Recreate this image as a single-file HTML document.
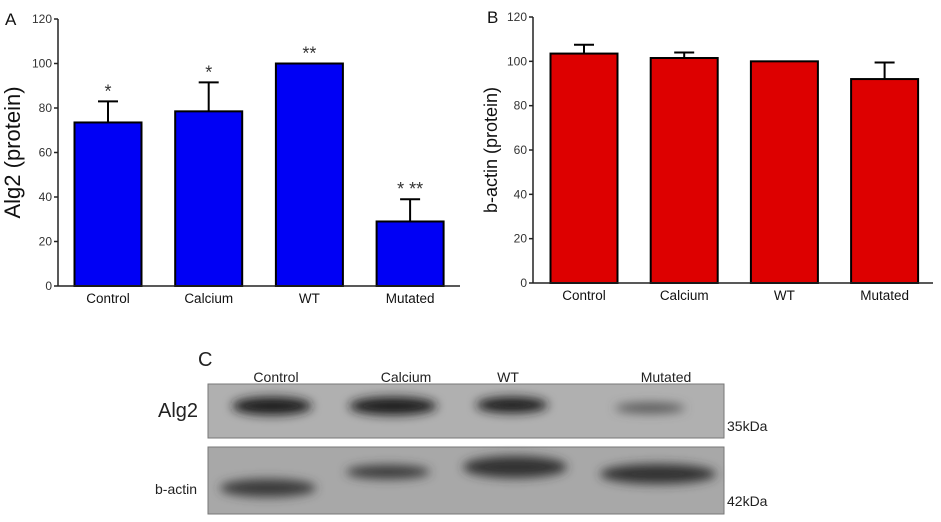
<!DOCTYPE html>
<html><head><meta charset="utf-8"><style>
body{margin:0;background:#fff;width:941px;height:522px;overflow:hidden}
svg{display:block;font-family:"Liberation Sans",sans-serif}
</style></head><body>
<svg id="s" width="941" height="522">
<defs>
<filter id="blur" x="-30%" y="-80%" width="160%" height="260%"><feGaussianBlur stdDeviation="5"/></filter>
</defs>
<g id="blot">
<text x="198" y="366" font-size="20" fill="#222">C</text>
<text x="276" y="382" font-size="14" text-anchor="middle" fill="#222">Control</text>
<text x="406" y="382" font-size="14" text-anchor="middle" fill="#222">Calcium</text>
<text x="508" y="382" font-size="14" text-anchor="middle" fill="#222">WT</text>
<text x="666" y="382" font-size="14" text-anchor="middle" fill="#222">Mutated</text>
<rect x="208" y="384" width="516" height="54" fill="#b0b0b0" stroke="#777"/>
<rect x="208" y="447" width="516" height="67" fill="#a8a8a8" stroke="#777"/>
<g filter="url(#blur)" fill="#1a1a1a">
<ellipse cx="272" cy="406" rx="40" ry="9"/>
<ellipse cx="393" cy="406" rx="44" ry="9"/>
<ellipse cx="512" cy="405" rx="36" ry="8"/>
<ellipse cx="650" cy="408" rx="35" ry="5" fill="#555"/>
<ellipse cx="268" cy="488" rx="48" ry="9" fill="#3a3a3a"/>
<ellipse cx="388" cy="472" rx="42" ry="7" fill="#3a3a3a"/>
<ellipse cx="515" cy="467" rx="52" ry="11" fill="#333"/>
<ellipse cx="658" cy="474" rx="58" ry="10" fill="#333"/>
</g>
<text x="158" y="417" font-size="20" fill="#222">Alg2</text>
<text x="155" y="494" font-size="14" fill="#222">b-actin</text>
<text x="727" y="431" font-size="14" fill="#222">35kDa</text>
<text x="727" y="506" font-size="14" fill="#222">42kDa</text>
</g>
</svg>
<script>
const categories = ["Control","Calcium","WT","Mutated"];
const alg2Values = [73.5,78.5,100,29];
const alg2Errors = [9.5,13,0,10];
const alg2Stars = ["*","*","**","* **"];
const bactinValues = [103.5,101.5,100,92];
const bactinErrors = [4,2.5,0,7.5];
const yTicks = [0,20,40,60,80,100,120];

const NS="http://www.w3.org/2000/svg";
const svg=document.getElementById('s');
function mk(tag,attrs,parent){const e=document.createElementNS(NS,tag);for(const k in attrs)e.setAttribute(k,attrs[k]);(parent||svg).appendChild(e);return e;}

function panel(cfg){
  const g=mk('g',{});
  
  
  const y=v=>cfg.y0-(v/120)*(cfg.y0-cfg.y120);
  const x=i=>cfg.ax+cfg.first+cfg.step*i;
  const bw=67;
  cfg.values.forEach((v,i)=>{
    const err=cfg.errors[i];
    if(err>0){
      const l=mk('line',{x1:x(i),x2:x(i),y1:y(v),y2:y(v+err),stroke:'#000','stroke-width':2},g);
      
      
      const c=mk('line',{x1:x(i)-10,x2:x(i)+10,y1:y(v+err),y2:y(v+err),stroke:'#000','stroke-width':2},g);
      
      
    }
    const r=mk('rect',{x:x(i)-bw/2,y:y(v),width:bw,height:y(0)-y(v),fill:cfg.color,stroke:'#000','stroke-width':2},g);
    
    
    const t=mk('text',{x:x(i),y:cfg.y0+17,'font-size':13.5,'text-anchor':'middle',fill:'#111'},g);
    t.textContent=categories[i];
    
    
    if(cfg.stars){
      const s=mk('text',{x:x(i),y:y(v+err)-4,'font-size':18,'text-anchor':'middle',fill:'#333'},g);
      s.textContent=cfg.stars[i];
      
      
    }
  });
  const ya=mk('line',{x1:cfg.ax,x2:cfg.ax,y1:cfg.y0,y2:cfg.y120,stroke:'#222','stroke-width':1.5},g);
  
  
  const xa=mk('line',{x1:cfg.ax,x2:cfg.xEnd,y1:cfg.y0,y2:cfg.y0,stroke:'#222','stroke-width':1.5},g);
  
  
  yTicks.forEach(v=>{
    const tk=mk('line',{x1:cfg.ax-4,x2:cfg.ax,y1:y(v),y2:y(v),stroke:'#222','stroke-width':1.5},g);
    
    
    const tl=mk('text',{x:cfg.ax-6,y:y(v)+4,'font-size':12,'text-anchor':'end',fill:'#333'},g);
    tl.textContent=v;
    
    
  });
  const tt=mk('text',{x:0,y:0,'font-size':cfg.titleSize,'text-anchor':'middle',fill:'#111',transform:`translate(${cfg.titleX},${(cfg.y0+cfg.y120)/2}) rotate(-90)`},g);
  tt.textContent=cfg.title;
  
  
  const pl=mk('text',{x:cfg.labelX,y:cfg.y120+6,'font-size':17,fill:'#111'},g);
  pl.textContent=cfg.label;
  
  
}
panel({name:'alg2-chart',ax:58,xEnd:460,y0:286,y120:19,first:50,step:100.7,values:alg2Values,errors:alg2Errors,stars:alg2Stars,color:'#0000f5',title:'Alg2 (protein)',titleSize:22,titleX:20,label:'A',labelX:5});
panel({name:'bactin-chart',ax:533,xEnd:933,y0:283,y120:17,first:51,step:100.2,values:bactinValues,errors:bactinErrors,stars:null,color:'#dd0000',title:'b-actin (protein)',titleSize:18,titleX:497,label:'B',labelX:487});
</script>
</body></html>
